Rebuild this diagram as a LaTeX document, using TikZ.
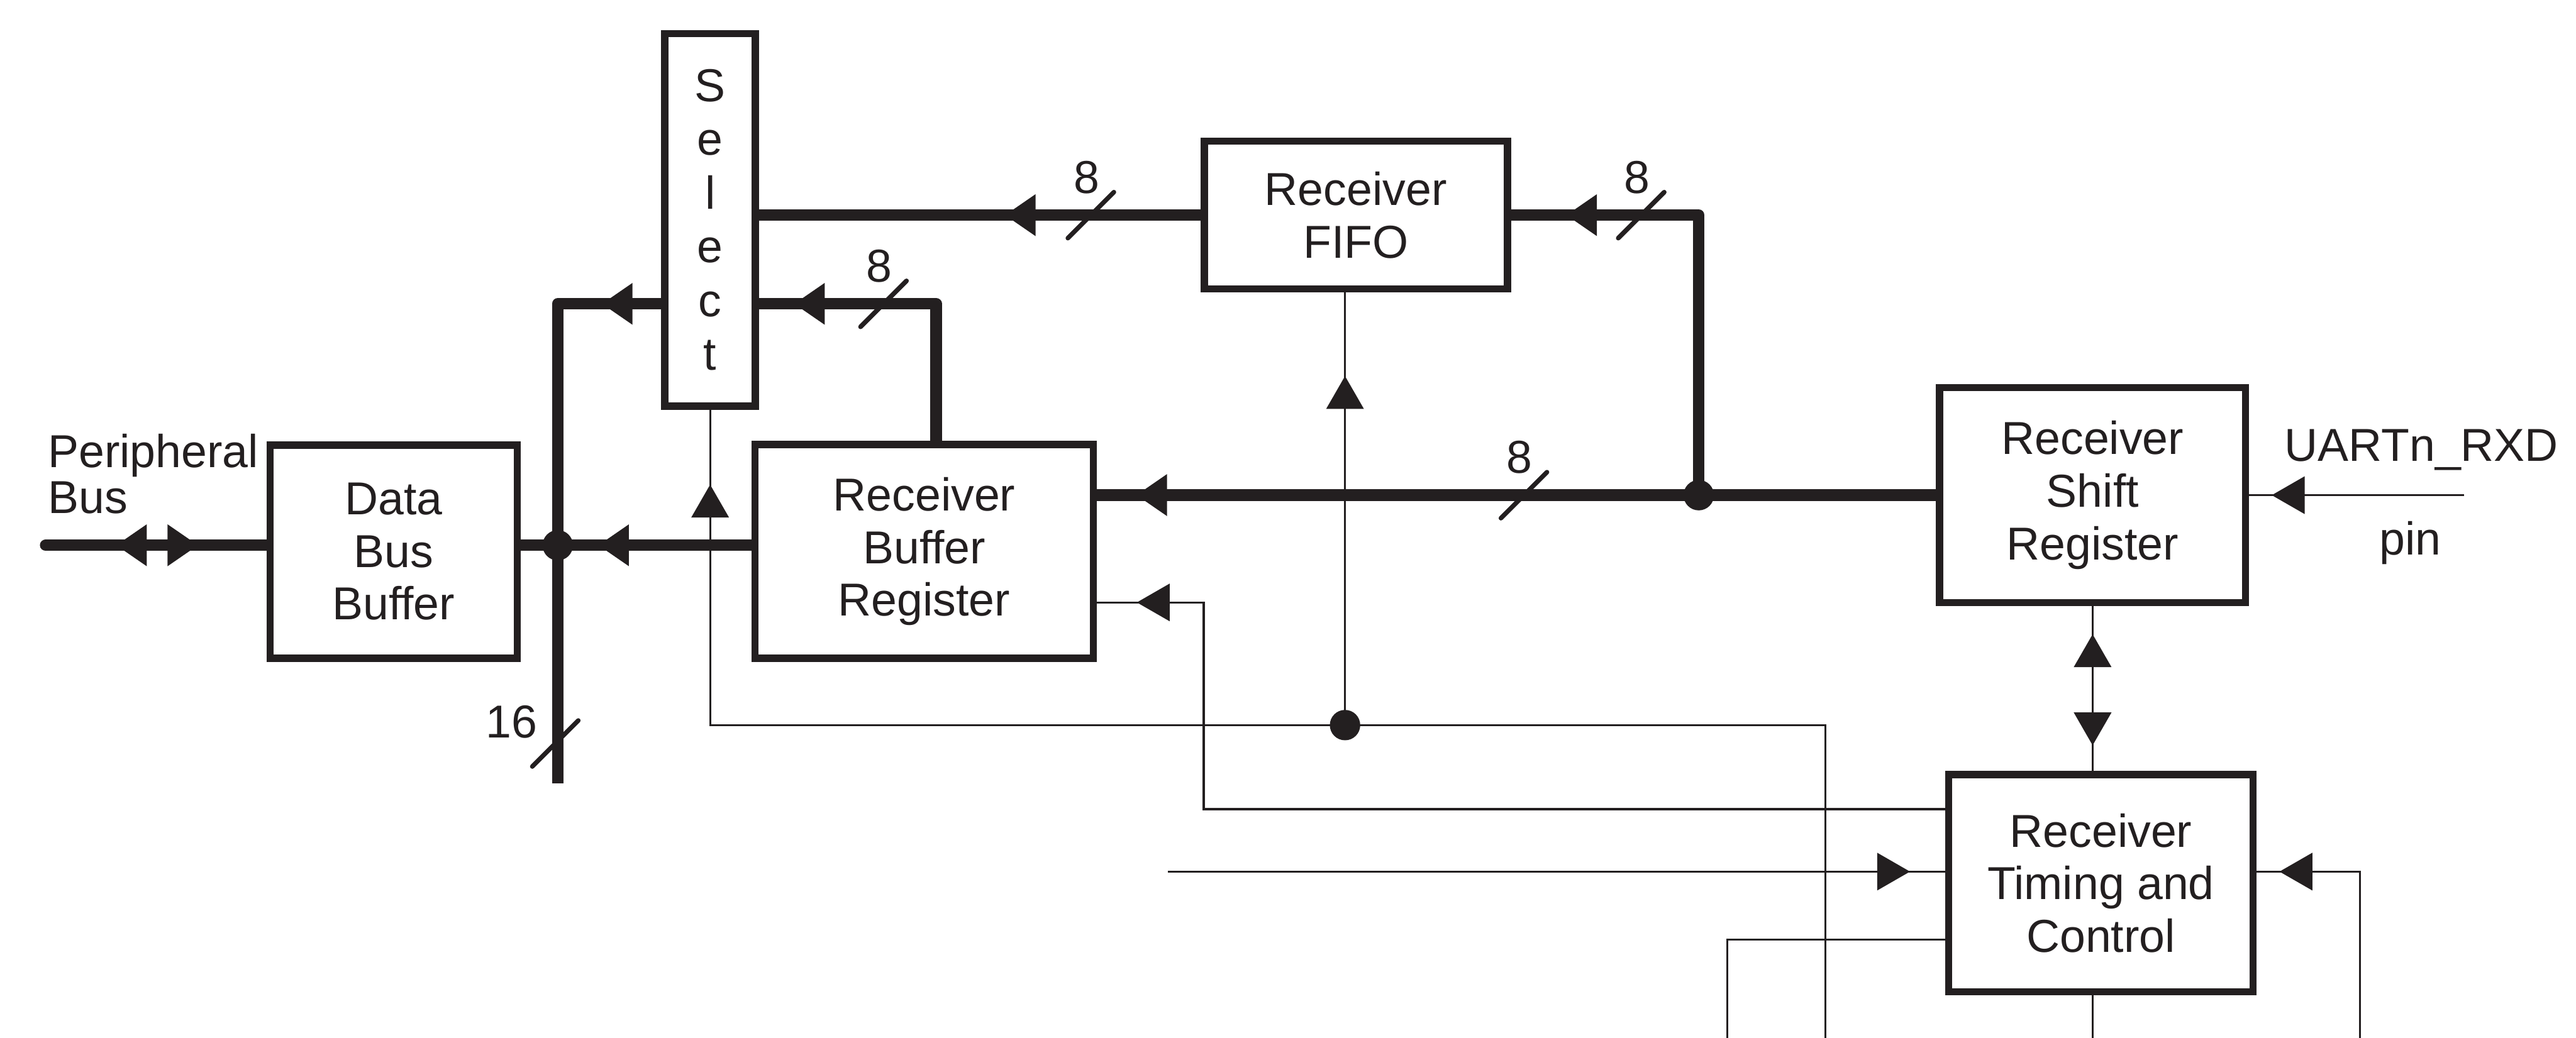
\documentclass[tikz,border=0pt]{standalone}
\usepackage{fontspec}
\setmainfont{Liberation Sans}
\usepackage{tikz}
\usetikzlibrary{arrows.meta,positioning,decorations.markings,calc}
\definecolor{ink}{RGB}{35,31,32}

\begin{document}
\begin{tikzpicture}[color=ink,
  font=\fontsize{8}{9.1}\selectfont,
  blk/.style={draw, line width=1.25pt, align=center, inner sep=0pt},
  bus/.style={line width=2pt, line join=round},
  sig/.style={line width=0.35pt},
  slash/.style={line width=0.8pt, line cap=round},
  bustip/.style={postaction={decorate}, decoration={markings,
    mark=at position #1 with {\arrow{Triangle[length=1.85mm,width=2.55mm,line width=0pt]}}}},
  sigtip/.style={postaction={decorate}, decoration={markings,
    mark=at position #1 with {\arrow{Triangle[length=2mm,width=2.3mm,line width=0pt]}}}}]
\useasboundingbox (0,0) rectangle (15.68,-6.32);

% blocks
\node[blk, minimum width=1.504cm, minimum height=1.298cm] (dbb) at (2.396,-3.359) {Data\\Bus\\Buffer};
\node[blk, minimum width=0.551cm, minimum height=2.269cm, font=\fontsize{8}{9.3}\selectfont] (sel) at (4.3225,-1.3385) {S\\e\\l\\e\\c\\t};
\node[blk, minimum width=2.061cm, minimum height=1.301cm] (rbr) at (5.6255,-3.3575) {Receiver\\Buffer\\Register};
\node[blk, minimum width=1.845cm, minimum height=0.90cm] (fifo) at (8.2525,-1.31) {Receiver\\FIFO};
\node[blk, minimum width=1.863cm, minimum height=1.309cm] (rsr) at (12.7375,-3.0145) {Receiver\\Shift\\Register};
\node[blk, minimum width=1.854cm, minimum height=1.322cm] (rtc) at (12.788,-5.377) {Receiver\\Timing and\\Control};

% free ends and corners
\coordinate (pbus) at (0.278,-3.32);
\coordinate (jdb) at (3.395,-3.32);
\coordinate (vtop) at (3.395,-1.85);
\coordinate (vbot) at (3.395,-4.77);
\coordinate (rtop) at (5.698,-1.85);
\coordinate (jrx) at (10.34,-3.015);
\coordinate (rxd) at (15.0,-3.015);
\coordinate (jctl) at (8.187,-4.415);
\coordinate (sbot) at (11.111,-6.32);
\coordinate (c1) at (7.327,-4.927);
\coordinate (c2) at (7.327,-3.668);
\coordinate (tin) at (7.108,-5.307);
\coordinate (tout) at (10.514,-5.722);
\coordinate (toutb) at (10.514,-6.32);
\coordinate (tclk) at (14.366,-6.32);

% data paths
\draw[bus, line cap=round, bustip=0.914cm] (dbb.west |- pbus) -- (pbus);
\path[bustip=0.927cm] (pbus) -- (dbb.west |- pbus);
\draw[bus, bustip=0.93cm] (rbr.west |- pbus) -- (dbb.east |- pbus);
\draw[bus, bustip=0.36cm] (sel.west |- vtop) -- (vtop) -- (vbot);
\fill (jdb) circle (0.0925);
\draw[bus, bustip=1.698cm] (rbr.north -| rtop) -- (rtop) -- (sel.east |- rtop);
\draw[bus, bustip=1.19cm] (fifo.west) -- (sel.east |- fifo.west);
\draw[bus, bustip=4.866cm] (rsr.west) -- (rbr.east |- rsr.west);
\fill (jrx) circle (0.0925);
\draw[bus, bustip=2.51cm] (jrx) |- (fifo.east);

% bus widths
\foreach \x/\y [count=\i] in {6.64/-1.31, 5.378/-1.85, 9.99/-1.31, 9.276/-3.015} {
  \draw[slash] (\x,\y) ++(-0.14,-0.14) -- ++(0.28,0.28);
  \node (w\i) at (\x-0.027,\y+0.23) {8};
}
\draw[slash] (3.38,-4.527) ++(-0.14,-0.14) -- ++(0.28,0.28);
\node (w16) at (3.115,-4.395) {16};

% control paths
\draw[sig, sigtip=1.172cm] (rxd) -- (rsr.east |- rxd);
\draw[sig, sigtip=0.847cm] (rsr.south) -- (rsr.south |- rtc.north);
\path[sigtip=0.832cm] (rsr.south |- rtc.north) -- (rsr.south);
\draw[sig, sigtip=-0.456cm] (sbot) |- (sel.south |- jctl) -- (sel.south);
\fill (jctl) circle (0.0925);
\draw[sig, sigtip=2.125cm] (jctl) -- (jctl |- fifo.south);
\draw[sig, sigtip=-0.242cm] (rtc.west |- c1) -- (c1) -- (c2) -- (rbr.east |- c2);
\draw[sig, sigtip=-0.213cm] (tin) -- (rtc.west |- tin);
\draw[sig] (rtc.west |- tout) -| (toutb);
\draw[sig] (rsr.south |- rtc.south) -- (rsr.south |- toutb);
\draw[sig, sigtip=-0.138cm] (tclk) |- (rtc.east |- tin);

% labels
\node[anchor=west, align=left, inner sep=0pt, font=\fontsize{8}{7.9}\selectfont] (pbl) at (0.285,-2.886) {Peripheral\\Bus};
\node[anchor=base] (rxdl) at (14.739,-2.806) {UARTn\_RXD};
\node[anchor=base] (pinl) at (14.67,-3.38) {pin};
\end{tikzpicture}
\end{document}
